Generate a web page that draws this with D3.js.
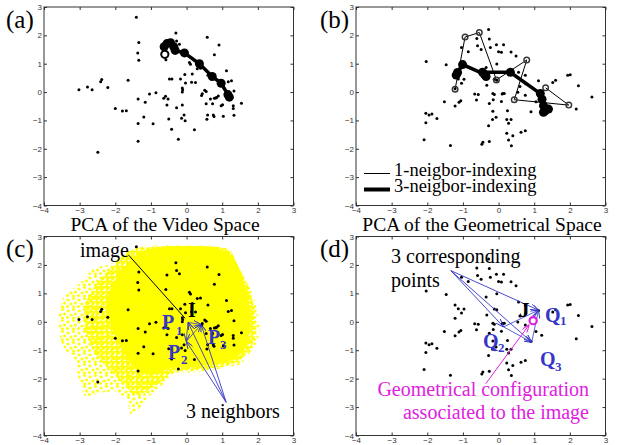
<!DOCTYPE html>
<html>
<head>
<meta charset="utf-8">
<script src="https://cdn.jsdelivr.net/npm/d3@7"></script>
<style>
  body { margin: 0; background: #fff; }
  .tick text { font-family: "Liberation Sans", Arial, sans-serif; font-size: 8px; fill: #333; }
  .tick line { stroke: #333; }
  .serif { font-family: "Liberation Serif", "Times New Roman", serif; }
</style>
</head>
<body>
<div id="chart"></div>
<script>
// tick values shared by every panel
const ticks = [-4, -3, -2, -1, 0, 1, 2, 3];

// black points of the video space, panels (a) and (c)
const videoPts = [
  [-1.41, 2.64], [-1.34, 1.75], [-1.37, 1.38], [-1.34, 1.12], [-3.02, 0.08], [-2.78, 0.18],
  [-2.65, 0.08], [-2.41, 0.36], [-2.38, 0.44], [-2.21, 0.16], [-1.64, 0.42], [-1.36, -0.24],
  [-2.00, -0.58], [-1.80, -0.67], [-1.69, -0.66], [-1.20, -0.88], [-1.16, -0.36], [-1.04, -0.07],
  [-0.86, -0.02], [-1.36, -1.11], [-1.36, -1.73], [-0.94, -1.12], [-2.49, -2.12], [-0.64, -0.22],
  [-0.59, -0.15], [-0.55, -0.46], [-0.52, -0.24], [-0.48, 0.46], [-0.41, 0.46], [-0.50, -0.95],
  [-0.42, -1.31], [-0.28, -0.55], [-0.23, -1.66], [-0.17, 0.46], [-0.12, -0.46], [-0.12, 0.14],
  [-0.11, 0.08], [-0.12, 0.00], [-0.14, -0.92], [-0.07, -0.81], [-0.04, -1.01], [-0.05, 0.62],
  [-0.03, 0.32], [0.08, 1.04], [0.11, 0.98], [0.14, 0.35], [0.16, 0.64], [0.22, -1.33],
  [0.25, 0.34], [0.30, 0.82], [0.39, 0.84], [0.42, -0.12], [0.44, -0.06], [0.51, 0.06],
  [0.55, -0.41], [0.57, -0.96], [0.59, -0.81], [0.55, 0.02], [0.60, 0.59], [0.58, 1.93],
  [0.67, -0.24], [0.73, -0.41], [0.75, -0.81], [0.77, -0.86], [0.78, -0.22], [0.82, -0.21],
  [0.84, -0.19], [0.89, -0.14], [0.97, -0.48], [1.01, -0.45], [1.03, -0.85], [1.12, 0.75],
  [1.17, 0.36], [1.26, 0.40], [1.31, -0.48], [1.31, -0.58], [1.33, -0.82], [1.33, 0.04],
  [1.54, -0.39], [0.91, 1.66], [0.78, 1.32], [-0.30, 2.08], [-0.28, 1.80], [-0.20, 1.69],
  [-0.55, 1.65], [-0.58, 1.14]
];

// black points of the geometrical space, panels (b) and (d)
const geomPts = [
  [-2.03, 1.08], [-1.47, 0.96], [-1.52, -0.34], [-1.22, -0.49], [-1.11, -0.36], [-1.06, -0.31],
  [-2.04, -0.75], [-1.95, -0.81], [-1.87, -0.77], [-2.04, -1.08], [-1.73, -0.93], [-2.09, -1.68],
  [-1.35, -1.88], [-0.47, -1.84], [-1.04, 0.31], [-1.13, 0.46], [-0.97, 0.45], [-1.04, 1.57],
  [-0.85, 1.42], [-0.67, -0.07], [-0.57, -0.09], [-0.62, -0.28], [-0.61, 1.89], [-0.59, 1.63],
  [-0.49, 1.50], [-1.22, 0.59], [-1.22, 0.12],
  [-0.28, 2.21], [-0.26, 1.87], [-0.23, 1.57], [-0.06, 1.67], [0.00, 1.42], [0.14, 1.67],
  [0.08, 1.40], [0.35, 1.41], [0.49, 1.27], [-0.05, 0.99], [-0.35, 0.87], [0.56, 0.70],
  [0.75, 0.59], [-0.33, 0.24], [-0.16, -0.05], [-0.12, -0.09], [0.12, -0.05], [0.16, -0.05],
  [0.08, -0.33], [-0.16, -0.68], [-0.26, -0.40], [-0.07, -0.89], [-0.17, -0.97], [0.25, -0.66],
  [0.23, -0.97], [0.35, -0.97], [-0.28, -1.19], [0.28, -1.10], [0.23, -1.45], [0.40, -1.54],
  [0.28, -1.69], [0.36, -1.89], [0.63, -1.42], [0.75, -1.36], [-0.44, -1.77], [-0.26, -1.74],
  [0.54, -0.01], [0.75, -0.11], [0.91, -0.69], [1.12, 0.40], [1.52, 0.34], [1.60, 0.42],
  [1.94, 0.59], [2.01, 0.61], [2.24, 0.22], [2.18, -0.60], [2.62, -0.17], [0.60, 0.20],
  [0.76, 0.29], [1.05, -0.34], [1.21, -0.47], [-0.15, -0.27], [0.10, -0.07], [-0.12, 0.45],
  [-0.05, 0.42]
];

// trajectories
const videoPath3 = [
  [-0.61, 1.33], [-0.63, 1.60], [-0.55, 1.71], [-0.45, 1.74], [-0.36, 1.60], [-0.32, 1.47],
  [-0.06, 1.38], [0.36, 1.00], [0.72, 0.55], [0.97, 0.31], [1.16, -0.09], [1.20, -0.18]
];
const geomPath1 = [
  [-1.22, 0.10], [-0.94, 1.94], [-0.54, 2.10], [-0.06, 0.43], [0.79, 1.13], [0.44, -0.27],
  [1.97, -0.46], [1.32, 0.15]
];
const geomPath3 = [
  [-1.19, 0.60], [-1.15, 0.69], [-1.01, 0.97], [-0.40, 0.63], [-0.35, 0.55], [-0.45, 0.70],
  [0.33, 0.70], [1.17, -0.05], [1.22, -0.25], [1.26, -0.48], [1.31, -0.66], [1.40, -0.60],
  [1.26, -0.71]
];

// outline of the yellow cloud of all images, panel (c): sparse edge, medium and dense core
const cloudOuter = [
  [-1.66, 2.45], [-1.29, 2.66], [-0.54, 2.68], [0.87, 2.66], [1.25, 2.5], [1.36, 2.0],
  [1.55, 1.55], [1.78, 1.18], [1.92, 0.71], [2.0, 0.24], [2.05, -0.29], [1.95, -0.76],
  [1.55, -1.45], [1.16, -1.6], [0.59, -1.72], [0.12, -1.78], [-0.35, -1.8], [-0.63, -2.15],
  [-0.82, -2.38], [-1.1, -2.68], [-1.29, -3.0], [-1.57, -3.24], [-1.66, -2.78], [-1.99, -2.45],
  [-2.42, -2.5], [-2.84, -2.62], [-3.03, -2.0], [-3.12, -1.41], [-3.4, -1.0], [-3.56, -0.53],
  [-3.6, 0.18], [-3.54, 0.6], [-3.4, 0.95], [-2.98, 1.36], [-2.6, 1.88], [-2.13, 2.02]
];
const cloudMid = [
  [-1.6, 2.5], [-0.6, 2.66], [0.8, 2.64], [1.25, 2.45], [1.45, 1.95], [1.72, 1.3],
  [1.88, 0.6], [1.95, -0.2], [1.85, -0.8], [1.5, -1.35], [1.0, -1.58], [0.3, -1.68],
  [-0.4, -1.78], [-0.8, -2.2], [-1.2, -2.5], [-1.5, -2.55], [-1.8, -2.15], [-2.2, -1.65],
  [-2.6, -1.05], [-2.85, -0.2], [-2.85, 0.6], [-2.55, 1.3], [-2.1, 1.9]
];
const cloudCore = [
  [-1.2, 2.5], [-0.3, 2.64], [0.75, 2.62], [1.25, 2.35], [1.5, 1.8], [1.7, 1.0],
  [1.8, 0.2], [1.75, -0.5], [1.55, -1.1], [1.05, -1.45], [0.3, -1.55], [-0.4, -1.6],
  [-0.9, -1.85], [-1.35, -1.75], [-1.7, -1.2], [-2.0, -0.5], [-2.25, 0.4], [-2.15, 1.1],
  [-1.8, 1.85]
];

// annotations of panels (c) and (d)
const imageLine = [[-1.63, 2.35], [-0.04, 0.12]];
const neighborSrc = [1.11, -2.83];
const neighbors = [[0.04, -0.02], [-0.01, -0.69], [0.41, -0.10]];
const corrSrc = [-1.34, 1.80];
const corresponding = [[1.12, 0.41], [0.14, -0.18], [0.93, -0.72]];
const configPt = [0.97, 0.04];
const configArrow = [[-0.36, -2.18], [0.86, -0.10]];

const W = 628, H = 445;
const BLUE = "#3636c8", MAG = "#e020e0", YEL = "#ffff00";

const svg = d3.select("#chart").append("svg")
  .attr("width", W).attr("height", H);

const defs = svg.append("defs");
function marker(id, color) {
  defs.append("marker")
    .attr("id", id).attr("viewBox", "0 0 8 6")
    .attr("refX", 8).attr("refY", 3)
    .attr("markerWidth", 8).attr("markerHeight", 6)
    .attr("markerUnits", "userSpaceOnUse").attr("orient", "auto")
    .append("path").attr("d", "M0,0L8,3L0,6")
    .attr("fill", "none").attr("stroke", color).attr("stroke-width", 1);
}
marker("arrB", BLUE);
marker("arrM", MAG);

// plus-shaped texture for the yellow cloud
function plusPattern(id, size, spots) {
  const p = defs.append("pattern").attr("id", id)
    .attr("width", size).attr("height", size)
    .attr("patternUnits", "userSpaceOnUse");
  p.append("path")
    .attr("d", spots.map(([a, b]) => `M${a - 1.6},${b}h3.2M${a},${b - 1.6}v3.2`).join(""))
    .attr("stroke", YEL).attr("stroke-width", 1.3);
}
plusPattern("sparse", 11, [[2, 3], [7.5, 1.5], [5, 7], [9.5, 6], [1.5, 9.5], [7.5, 10]]);
plusPattern("dense", 5, [[1.5, 1.5], [4, 2.5], [2.5, 4]]);

function panel(xr, yr) {
  const x = d3.scaleLinear().domain([-4, 3]).range(xr);
  const y = d3.scaleLinear().domain([-4, 3]).range(yr);
  const g = svg.append("g");
  const ax = [
    [d3.axisBottom(x), `translate(0,${yr[0]})`, true],
    [d3.axisLeft(y), `translate(${xr[0]},0)`, true],
    [d3.axisTop(x), `translate(0,${yr[1]})`, false],
    [d3.axisRight(y), `translate(${xr[1]},0)`, false]
  ];
  ax.forEach(([a, t, lab]) => {
    const s = g.append("g").attr("transform", t)
      .call(a.tickValues(ticks).tickSize(-3).tickPadding(lab ? 2 : 0)
        .tickFormat(lab ? d3.format("d") : ""));
    s.select(".domain").remove();
  });
  const layer = svg.append("g");
  g.append("rect")
    .attr("x", xr[0]).attr("y", yr[1])
    .attr("width", xr[1] - xr[0]).attr("height", yr[0] - yr[1])
    .attr("fill", "none").attr("stroke", "#333").attr("stroke-width", 1);
  return { x, y, g: layer };
}

function dots(p, data) {
  p.g.append("g").selectAll("circle").data(data).join("circle")
    .attr("cx", d => p.x(d[0])).attr("cy", d => p.y(d[1]))
    .attr("r", 1.5).attr("fill", "#000");
}

function text(x, y, s, opts = {}) {
  return svg.append("text").attr("class", "serif")
    .attr("x", x).attr("y", y)
    .attr("font-size", opts.size || 20)
    .attr("font-weight", opts.bold ? "bold" : "normal")
    .attr("text-anchor", opts.anchor || "start")
    .attr("fill", opts.color || "#000")
    .text(s);
}

const line = p => d3.line().x(d => p.x(d[0])).y(d => p.y(d[1]));

// ---- (a) video space
const pa = panel([44, 293.5], [205.5, 7]);
dots(pa, videoPts);
pa.g.append("path").attr("d", line(pa)(videoPath3))
  .attr("fill", "none").attr("stroke", "#000").attr("stroke-width", 3.5);
pa.g.selectAll(".big").data(videoPath3.slice(1)).join("circle")
  .attr("cx", d => pa.x(d[0])).attr("cy", d => pa.y(d[1]))
  .attr("r", 4.5).attr("fill", "#000");
pa.g.append("circle")
  .attr("cx", pa.x(videoPath3[0][0])).attr("cy", pa.y(videoPath3[0][1]))
  .attr("r", 3.6).attr("fill", "#fff").attr("stroke", "#000").attr("stroke-width", 2);

// ---- (b) geometrical space
const pb = panel([356, 605.5], [205.5, 7]);
dots(pb, geomPts);
pb.g.append("path").attr("d", line(pb)(geomPath1))
  .attr("fill", "none").attr("stroke", "#000").attr("stroke-width", 1);
pb.g.selectAll(".small").data(geomPath1).join("circle")
  .attr("cx", d => pb.x(d[0])).attr("cy", d => pb.y(d[1]))
  .attr("r", 2.8).attr("fill", "none").attr("stroke", "#333").attr("stroke-width", 1.4);
pb.g.append("path").attr("d", line(pb)(geomPath3))
  .attr("fill", "none").attr("stroke", "#000").attr("stroke-width", 3.5);
pb.g.selectAll(".big").data(geomPath3).join("circle")
  .attr("cx", d => pb.x(d[0])).attr("cy", d => pb.y(d[1]))
  .attr("r", 4.5).attr("fill", "#000");

// legend of (b)
svg.append("line").attr("x1", 364).attr("x2", 390).attr("y1", 173.5).attr("y2", 173.5)
  .attr("stroke", "#000").attr("stroke-width", 1);
svg.append("line").attr("x1", 364).attr("x2", 390).attr("y1", 189.5).attr("y2", 189.5)
  .attr("stroke", "#000").attr("stroke-width", 4);
text(394, 176, "1-neigbor-indexing", { size: 18.5 });
text(394, 192, "3-neigbor-indexing", { size: 18.5 });

// ---- (c) video space with all images
const pc = panel([44, 293.5], [435.5, 236.5]);
const area = p => d3.line().x(d => p.x(d[0])).y(d => p.y(d[1])).curve(d3.curveCardinalClosed.tension(0.3));
pc.g.append("path").attr("d", area(pc)(cloudOuter)).attr("fill", "url(#sparse)");
pc.g.append("path").attr("d", area(pc)(cloudMid)).attr("fill", "url(#dense)");
pc.g.append("path").attr("d", area(pc)(cloudCore)).attr("fill", YEL);
dots(pc, videoPts);
pc.g.append("path").attr("d", line(pc)(imageLine))
  .attr("stroke", "#000").attr("stroke-width", 1).attr("fill", "none");
neighbors.forEach(q => {
  pc.g.append("path").attr("d", line(pc)([neighborSrc, q]))
    .attr("stroke", BLUE).attr("stroke-width", 0.9).attr("fill", "none")
    .attr("marker-end", "url(#arrB)");
});
[[0, 2], [1, 2], [0, 1]].forEach(([i, j]) => {
  pc.g.append("path").attr("d", line(pc)([neighbors[i], neighbors[j]]))
    .attr("stroke", BLUE).attr("stroke-width", 0.8).attr("fill", "none")
    .attr("marker-end", "url(#arrB)");
});
text(80, 257, "image");
text(188, 317, "I", { bold: true });
text(162, 328.5, "P", { bold: true, color: BLUE });
text(176, 335, "1", { bold: true, color: BLUE, size: 13 });
text(168, 358.5, "P", { bold: true, color: BLUE });
text(181, 363.5, "2", { bold: true, color: BLUE, size: 13 });
text(208, 343.5, "P", { bold: true, color: BLUE });
text(220, 348.5, "3", { bold: true, color: BLUE, size: 13 });
text(186, 418, "3 neighbors");

// ---- (d) geometrical space with the configurations
const pd = panel([356, 605.5], [435.5, 236.5]);
dots(pd, geomPts);
corresponding.forEach(q => {
  pd.g.append("path").attr("d", line(pd)([corrSrc, q]))
    .attr("stroke", BLUE).attr("stroke-width", 0.9).attr("fill", "none")
    .attr("marker-end", "url(#arrB)");
});
[[1, 0], [1, 2], [2, 0]].forEach(([i, j]) => {
  pd.g.append("path").attr("d", line(pd)([corresponding[i], corresponding[j]]))
    .attr("stroke", BLUE).attr("stroke-width", 0.8).attr("fill", "none")
    .attr("marker-end", "url(#arrB)");
});
pd.g.append("path").attr("d", line(pd)(configArrow))
  .attr("stroke", MAG).attr("stroke-width", 1).attr("fill", "none")
  .attr("marker-end", "url(#arrM)");
pd.g.append("circle")
  .attr("cx", pd.x(configPt[0])).attr("cy", pd.y(configPt[1]))
  .attr("r", 3.6).attr("fill", "#fff").attr("stroke", MAG).attr("stroke-width", 2.2);
text(391, 263, "3 corresponding");
text(391, 287, "points");
text(519, 317, "J", { bold: true, size: 21 });
text(545, 322, "Q", { bold: true, color: BLUE });
text(560, 325, "1", { bold: true, color: BLUE, size: 13 });
text(483, 348, "Q", { bold: true, color: BLUE });
text(498, 352, "2", { bold: true, color: BLUE, size: 13 });
text(540, 366, "Q", { bold: true, color: BLUE });
text(555, 370.5, "3", { bold: true, color: BLUE, size: 13 });
text(589, 396, "Geometrical configuration", { color: MAG, anchor: "end" });
text(589, 419, "associated to the image", { color: MAG, anchor: "end" });

// panel letters and titles
text(6, 28, "(a)", { size: 25 });
text(320, 28, "(b)", { size: 25 });
text(6, 257, "(c)", { size: 25 });
text(320, 257, "(d)", { size: 25 });
text(165, 231, "PCA of the Video Space", { size: 19.5, anchor: "middle" });
text(482, 231, "PCA of the Geometrical Space", { size: 19.5, anchor: "middle" });
</script>
</body>
</html>
